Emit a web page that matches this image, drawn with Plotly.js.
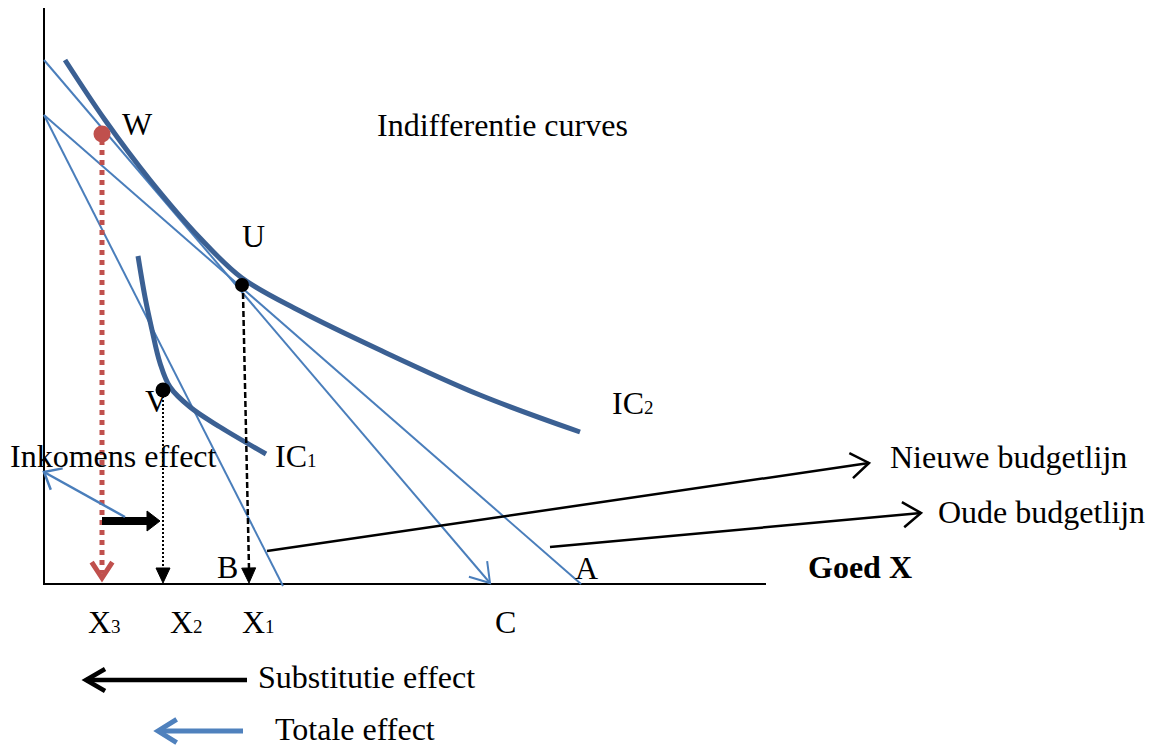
<!DOCTYPE html>
<html>
<head>
<meta charset="utf-8">
<script src="https://cdn.plot.ly/plotly-3.0.1.min.js"></script>
<style>html,body{margin:0;padding:0;background:#fff;}#chart{width:1149px;height:746px;}</style>
</head>
<body>
<div id="chart"></div>
<script>
// ---- diagram data (drawing units: x to the right, y downward) ----
const axisX = [44, 44, 766];
const axisY = [8, 584, 584];

const ic2X = [65, 105, 150, 200, 242, 300, 380, 480, 580];
const ic2Y = [60, 120, 180, 238, 278, 311, 350, 395, 432];

const ic1X = [138, 145, 152, 160, 170, 190, 220, 266];
const ic1Y = [256, 297, 330, 363, 387, 407, 427, 454];

// budget lines: [x0, y0, x1, y1]
const newBudget = [44, 60, 490, 583];   // towards C (arrow)
const oldBudget = [44, 115, 581, 584];  // towards A
const lowBudget = [44, 115, 283, 586];  // towards B

const pointW = [102, 134];
const pointU = [242, 285];
const pointV = [163, 390];

const dropW = [102, 140, 102, 573];
const dropV = [163, 396, 163, 569];
const dropU = [243, 293, 249, 569];

const incomeArrow = [102, 521, 160, 521];
const totalSmall = [125, 517, 44, 472];
const pointerNew = [267, 551, 869, 463];
const pointerOld = [550, 547, 921, 513];
const legendSubst = [247, 680, 86, 680];
const legendTotal = [243, 731, 158, 731];

const SUB = s => '<span style="font-size:19px">' + s + '</span>';
const labels = [
  {t: 'W', x: 121, y: 124},
  {t: 'U', x: 241, y: 236},
  {t: 'V', x: 144, y: 401},
  {t: 'Indifferentie curves', x: 376, y: 125},
  {t: 'IC' + SUB('2'), x: 611, y: 403},
  {t: 'IC' + SUB('1'), x: 274, y: 456},
  {t: 'Inkomens effect', x: 9, y: 456},
  {t: 'B', x: 216, y: 567},
  {t: 'A', x: 574, y: 568},
  {t: '<b>Goed X</b>', x: 807, y: 567},
  {t: 'X' + SUB('3'), x: 87, y: 622},
  {t: 'X' + SUB('2'), x: 169, y: 622},
  {t: 'X' + SUB('1'), x: 241, y: 622},
  {t: 'C', x: 494, y: 622},
  {t: 'Nieuwe budgetlijn', x: 889, y: 457},
  {t: 'Oude budgetlijn', x: 937, y: 512},
  {t: 'Substitutie effect', x: 257, y: 677},
  {t: 'Totale effect', x: 274, y: 729}
];

// ---- helpers ----
const BLUE_THIN = '#4A7EBB';
const BLUE_IC = '#3B6093';
const RED = '#C0504D';
const traces = [];
function line(xs, ys, color, width, dash, shape) {
  traces.push({type: 'scatter', mode: 'lines', x: xs, y: ys, hoverinfo: 'skip', showlegend: false,
    line: {color: color, width: width, dash: dash || 'solid', shape: shape || 'linear', smoothing: 1}});
}
function seg(s, color, width, dash) { line([s[0], s[2]], [s[1], s[3]], color, width, dash); }
function chevron(s, len, ang, color, width) {
  const dx = s[0] - s[2], dy = s[1] - s[3];
  const d = Math.hypot(dx, dy), ux = dx / d, uy = dy / d;
  const a = ang * Math.PI / 180, c = Math.cos(a), sn = Math.sin(a);
  const p1 = [s[2] + len * (ux * c - uy * sn), s[3] + len * (ux * sn + uy * c)];
  const p2 = [s[2] + len * (ux * c + uy * sn), s[3] + len * (-ux * sn + uy * c)];
  line([p1[0], s[2], p2[0]], [p1[1], s[3], p2[1]], color, width);
}
function triangle(s, len, half, color) {
  const dx = s[0] - s[2], dy = s[1] - s[3];
  const d = Math.hypot(dx, dy), ux = dx / d, uy = dy / d;
  const bx = s[2] + len * ux, by = s[3] + len * uy;
  traces.push({type: 'scatter', mode: 'lines', fill: 'toself', fillcolor: color, hoverinfo: 'skip', showlegend: false,
    x: [bx - half * uy, s[2], bx + half * uy, bx - half * uy],
    y: [by + half * ux, s[3], by - half * ux, by + half * ux],
    line: {color: color, width: 1}});
}
function dot(p, color, size) {
  traces.push({type: 'scatter', mode: 'markers', x: [p[0]], y: [p[1]], hoverinfo: 'skip', showlegend: false,
    marker: {color: color, size: size, line: {width: 0}}});
}

// axes
line(axisX, axisY, '#000', 2);
// budget lines
seg(newBudget, BLUE_THIN, 2);
chevron(newBudget, 22, 33, BLUE_THIN, 2);
seg(oldBudget, BLUE_THIN, 2);
seg(lowBudget, BLUE_THIN, 2);
// indifference curves
line(ic2X, ic2Y, BLUE_IC, 5, 'solid', 'spline');
line(ic1X, ic1Y, BLUE_IC, 5, 'solid', 'spline');
// drops to the x axis
seg(dropW, RED, 5, '5px,5px');
chevron([dropW[0], dropW[1], dropW[2], 578], 19, 33, RED, 5);
seg(dropV, '#000', 2, '2px,2px');
triangle([dropV[0], dropV[1], dropV[2], 583], 15, 7, '#000');
seg(dropU, '#000', 2.5, '6px,3px');
triangle([dropU[0], dropU[1], dropU[2], 583], 15, 7, '#000');
// points
dot(pointW, RED, 17);
dot(pointU, '#000', 14);
dot(pointV, '#000', 15);
// income effect arrow
seg([incomeArrow[0], incomeArrow[1], 150, incomeArrow[3]], '#000', 8);
triangle(incomeArrow, 13, 10, '#000');
// small total-effect arrow in the plot
seg(totalSmall, BLUE_THIN, 2.5);
chevron(totalSmall, 19, 40, BLUE_THIN, 2.5);
// pointers to the budget line labels
seg(pointerNew, '#000', 2.5);
chevron(pointerNew, 22, 35, '#000', 2.5);
seg(pointerOld, '#000', 2.5);
chevron(pointerOld, 22, 35, '#000', 2.5);
// legend arrows
seg(legendSubst, '#000', 4.5);
chevron(legendSubst, 22, 30, '#000', 4.5);
seg(legendTotal, '#4F81BD', 5);
chevron(legendTotal, 22, 32, '#4F81BD', 5);

const annotations = labels.map(l => ({
  text: l.t, x: l.x, y: l.y, xref: 'x', yref: 'y', xanchor: 'left', yanchor: 'middle',
  showarrow: false, borderpad: 0,
  font: {family: '"Liberation Serif", "Times New Roman", serif', size: 32, color: '#000'}
}));

const layout = {
  width: 1149, height: 746,
  margin: {l: 0, r: 0, t: 0, b: 0},
  paper_bgcolor: '#fff', plot_bgcolor: '#fff',
  xaxis: {range: [0, 1149], visible: false, fixedrange: true},
  yaxis: {range: [746, 0], visible: false, fixedrange: true},
  annotations: annotations,
  showlegend: false
};
Plotly.newPlot('chart', traces, layout, {staticPlot: true});
</script>
</body>
</html>
